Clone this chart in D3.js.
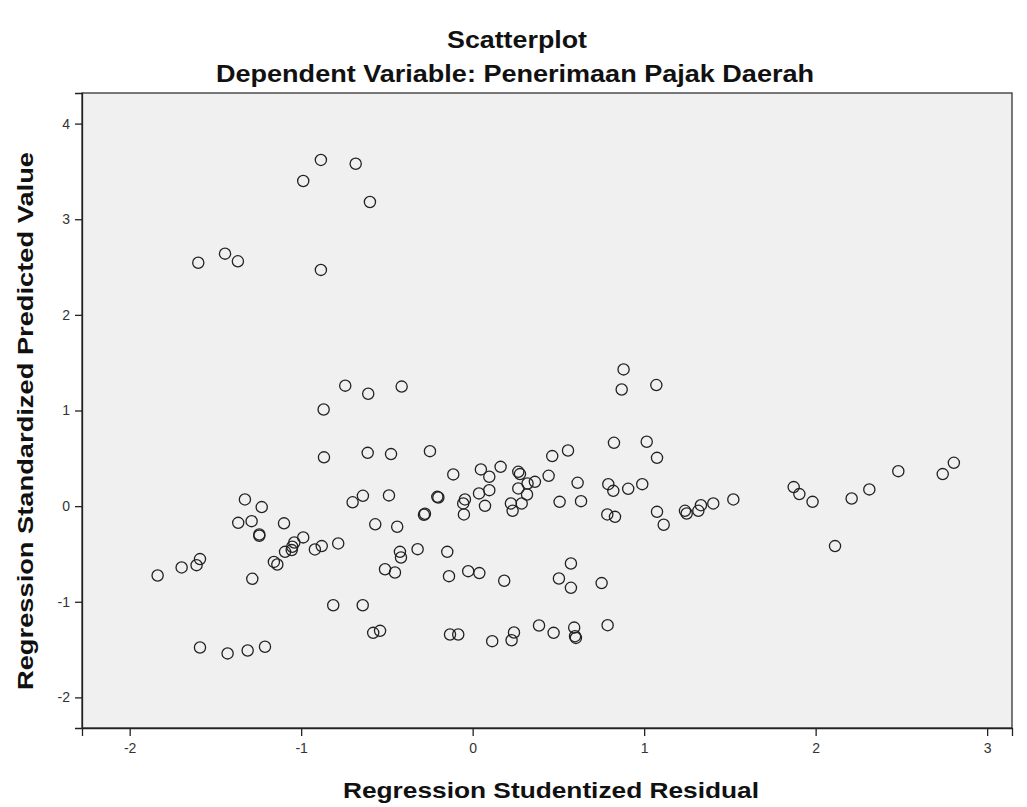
<!DOCTYPE html>
<html>
<head>
<meta charset="utf-8">
<script src="https://cdn.jsdelivr.net/npm/d3@7"></script>
<style>
body{margin:0;background:#fff;}
text{font-family:"Liberation Sans",Arial,sans-serif;}
</style>
</head>
<body>
<svg id="chart" width="1027" height="807"></svg>
<script>
// Regression Studentized Residual (x) and Standardized Predicted Value (y)
var residual = [
 -0.885,-0.682,-0.988,-0.599,-1.444,-1.369,-1.60,-0.885,
 -0.743,-0.609,-0.414,-0.869,-0.867,-0.612,-0.476,
 -1.328,-1.23,-0.64,-0.70,-0.488,
 -1.367,-1.289,-1.10,-0.568,-0.44,-1.244,-1.244,-0.988,-1.040,-1.052,-1.055,-1.094,
 -0.92,-0.88,-0.784,-1.59,-1.61,-1.697,-1.837,-1.159,-1.139,-1.285,
 -0.511,-0.453,-0.424,-0.418,-0.813,-0.641,-0.58,-0.54,
 -1.59,-1.429,-1.312,-1.211,
 0.88,0.869,1.071,0.824,1.015,1.075,
 -0.249,-0.113,0.048,0.097,0.163,0.266,0.276,0.464,0.556,0.443,0.363,0.32,0.266,0.317,
 0.286,0.223,0.233,0.097,0.037,0.072,-0.045,-0.055,-0.051,-0.206,-0.200,-0.278,-0.284,
 0.507,0.632,0.612,0.791,0.82,0.907,0.989,0.785,0.83,1.075,1.238,1.248,1.316,1.331,1.403,1.114,
 -0.321,-0.148,-0.138,-0.026,0.039,0.184,0.573,0.503,0.573,0.752,
 -0.132,-0.084,0.114,0.241,0.227,0.387,0.472,0.592,0.597,0.602,0.787,
 1.52,1.872,1.905,1.982,2.21,2.313,2.482,2.741,2.806,2.113
];
var predicted = [
 3.62,3.58,3.40,3.18,2.64,2.56,2.545,2.47,
 1.26,1.175,1.25,1.01,0.51,0.557,0.544,
 0.07,-0.01,0.108,0.04,0.112,
 -0.175,-0.157,-0.18,-0.19,-0.216,-0.296,-0.31,-0.327,-0.38,-0.425,-0.46,-0.478,
 -0.453,-0.418,-0.39,-0.554,-0.617,-0.641,-0.725,-0.583,-0.61,-0.76,
 -0.66,-0.694,-0.478,-0.537,-1.036,-1.036,-1.325,-1.304,
 -1.478,-1.54,-1.51,-1.47,
 1.43,1.22,1.266,0.662,0.673,0.505,
 0.575,0.332,0.384,0.307,0.411,0.359,0.335,0.523,0.582,0.317,0.254,0.237,0.185,0.122,
 0.028,0.028,-0.049,0.167,0.133,0.003,0.07,0.028,-0.087,0.097,0.090,-0.08,-0.09,
 0.045,0.052,0.244,0.23,0.16,0.181,0.23,-0.087,-0.112,-0.06,-0.049,-0.077,-0.049,0.01,0.028,-0.195,
 -0.45,-0.478,-0.732,-0.68,-0.70,-0.78,-0.60,-0.757,-0.854,-0.805,
 -1.342,-1.342,-1.412,-1.321,-1.402,-1.248,-1.325,-1.27,-1.36,-1.378,-1.245,
 0.07,0.199,0.126,0.045,0.08,0.175,0.366,0.335,0.453,-0.418
];
var xTicks = [-2,-1,0,1,2,3];
var yTicks = [-2,-1,0,1,2,3,4];

(function(){
var svg = d3.select('#chart');
var pL=82, pR=1012, pT=93, pB=728;

var x = d3.scaleLinear().domain([-2.278,3.145]).range([pL,pR]);
var y = d3.scaleLinear().domain([-2.32,4.32]).range([pB,pT]);

svg.append('rect')
	.attr('x',pL).attr('y',pT)
	.attr('width',pR-pL).attr('height',pB-pT)
	.attr('fill','#f0f0f0')
	.attr('stroke','#333').attr('stroke-width',1.3);

var fmt = function(d){ return String(d); };
var xAxis = svg.append('g')
	.attr('transform','translate(0,'+pB+')')
	.call(d3.axisBottom(x).tickValues(xTicks).tickSize(8).tickPadding(7).tickFormat(fmt));
var yAxis = svg.append('g')
	.attr('transform','translate('+pL+',0)')
	.call(d3.axisLeft(y).tickValues(yTicks).tickSize(7).tickPadding(5).tickFormat(fmt));
[xAxis,yAxis].forEach(function(a){
	a.select('.domain').attr('stroke','#222').attr('stroke-width',1.3);
	a.selectAll('.tick line').attr('stroke','#222').attr('stroke-width',1.3);
	a.selectAll('.tick text').attr('fill','#333').style('font-size','14px')
		.style('font-family','"Liberation Sans",Arial,sans-serif');
});

var pts = residual.map(function(d,i){ return {x:d, y:predicted[i]}; });
svg.append('g').selectAll('circle')
	.data(pts)
	.enter()
	.append('circle')
	.attr('cx',function(d){ return x(d.x); })
	.attr('cy',function(d){ return y(d.y); })
	.attr('r',5.6)
	.attr('fill','none')
	.attr('stroke','#222')
	.attr('stroke-width',1.3);

function label(t,px,py,size,len,rot){
	var el = svg.append('text')
		.attr('x',px).attr('y',py)
		.attr('text-anchor','middle')
		.attr('font-weight','bold')
		.attr('fill','#111')
		.style('font-size',size+'px')
		.attr('textLength',len)
		.attr('lengthAdjust','spacingAndGlyphs')
		.text(t);
	if(rot) el.attr('transform','rotate(-90,'+px+','+py+')');
	return el;
}
label('Scatterplot',517,48,23,140);
label('Dependent Variable: Penerimaan Pajak Daerah',515,82,23,598);
label('Regression Studentized Residual',551,798,22,416);
label('Regression Standardized Predicted Value',33,421,22,538,true);
})();
</script>
</body>
</html>
